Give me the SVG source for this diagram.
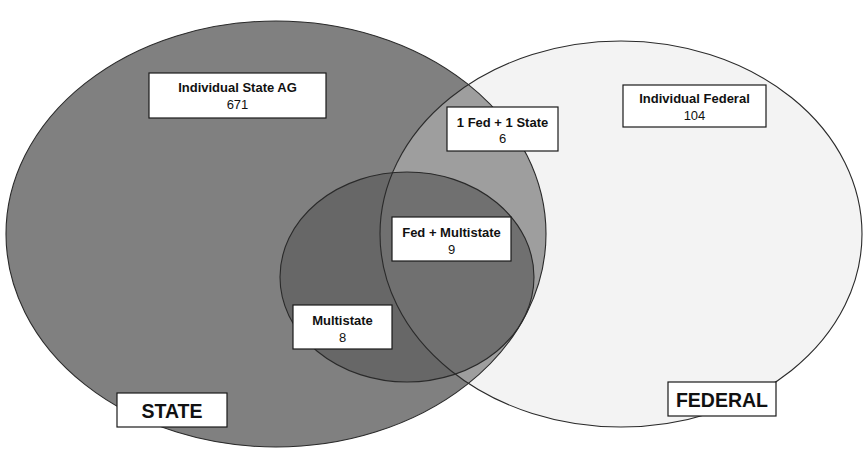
<svg xmlns="http://www.w3.org/2000/svg" width="864" height="450" viewBox="0 0 864 450">
  <style>
    .edge { fill: none; stroke: #2a2a2a; stroke-width: 1.1; }
    .box { fill: #ffffff; stroke: #1a1a1a; stroke-width: 1.2; }
    .t { font-family: "Liberation Sans", Arial, sans-serif; font-size: 13px; fill: #111; text-anchor: middle; }
    .b { font-weight: bold; }
    .big { font-family: "Liberation Sans", Arial, sans-serif; font-size: 19.5px; font-weight: bold; fill: #111; text-anchor: middle; }
  </style>
  <defs>
    <clipPath id="stateClip"><ellipse cx="276" cy="234" rx="270" ry="213"/></clipPath>
    <clipPath id="fedClip"><ellipse cx="621" cy="234" rx="241" ry="193"/></clipPath>
  </defs>
  <rect x="0" y="0" width="864" height="450" fill="#ffffff"/>

  <g id="sets">
    <g id="state-set">
      <ellipse cx="276" cy="234" rx="270" ry="213" fill="#808080"/>
    </g>
    <g id="federal-set">
      <ellipse cx="621" cy="234" rx="241" ry="193" fill="#f3f3f3"/>
      <ellipse cx="621" cy="234" rx="241" ry="193" fill="#9e9e9e" clip-path="url(#stateClip)"/>
    </g>
    <g id="multistate-set">
      <ellipse cx="407" cy="277" rx="127" ry="105" fill="#676767"/>
      <ellipse cx="407" cy="277" rx="127" ry="105" fill="#707070" clip-path="url(#fedClip)"/>
    </g>
    <g id="set-outlines">
      <ellipse class="edge" cx="276" cy="234" rx="270" ry="213"/>
      <ellipse class="edge" cx="621" cy="234" rx="241" ry="193"/>
      <ellipse class="edge" cx="407" cy="277" rx="127" ry="105"/>
    </g>
  </g>

  <g id="connectors"></g>

  <g id="node-individual-state">
    <rect class="box" x="149" y="73" width="177" height="45"/>
    <text class="t b" x="237.5" y="92">Individual State AG</text>
    <text class="t" x="237.5" y="109">671</text>
  </g>
  <g id="node-fed-state">
    <rect class="box" x="447" y="107" width="111" height="44"/>
    <text class="t b" x="502.5" y="127">1 Fed + 1 State</text>
    <text class="t" x="502.5" y="143">6</text>
  </g>
  <g id="node-individual-federal">
    <rect class="box" x="623" y="85" width="143" height="42"/>
    <text class="t b" x="694.5" y="103">Individual Federal</text>
    <text class="t" x="694.5" y="120">104</text>
  </g>
  <g id="node-fed-multistate">
    <rect class="box" x="392" y="217" width="119" height="44"/>
    <text class="t b" x="451.5" y="237">Fed + Multistate</text>
    <text class="t" x="451.5" y="254">9</text>
  </g>
  <g id="node-multistate">
    <rect class="box" x="293" y="305" width="99" height="44"/>
    <text class="t b" x="342.5" y="325">Multistate</text>
    <text class="t" x="342.5" y="342">8</text>
  </g>
  <g id="node-state-label">
    <rect class="box" x="117" y="393" width="110" height="34"/>
    <text class="big" x="172" y="418">STATE</text>
  </g>
  <g id="node-federal-label">
    <rect class="box" x="668" y="382" width="108" height="34"/>
    <text class="big" x="722" y="407">FEDERAL</text>
  </g>
</svg>
